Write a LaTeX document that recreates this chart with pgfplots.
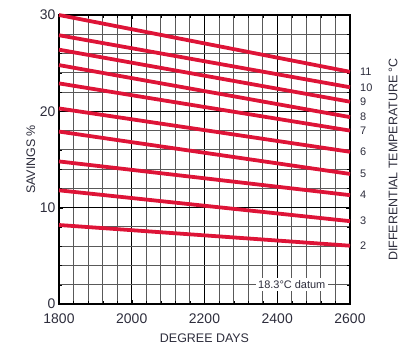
\documentclass[border=0pt]{standalone}
\usepackage{pgfplots}
\pgfplotsset{compat=1.18}
\usepackage{fontspec}
\setmainfont{Liberation Sans}
\definecolor{linered}{RGB}{222,20,55}
\definecolor{txt}{RGB}{45,45,60}
\begin{document}
\begin{tikzpicture}
\path (-59bp,-55bp) rectangle (344bp,304bp);
\begin{axis}[
  at={(0,0)}, anchor=south west,
  scale only axis, width=291bp, height=289bp,
  xmin=1800, xmax=2600, ymin=0, ymax=30,
  xtick={1800,2000,2200,2400,2600}, ytick={0,10,20,30},
  minor x tick num=4, minor y tick num=4,
  grid=both,
  major grid style={black, line width=1pt},
  minor grid style={black!65, line width=1pt},
  axis line style={black, line width=1.2pt},
  tick style={black},
  tick label style={font=\fontsize{14}{16}\selectfont, text=txt},
  xticklabel style={yshift=-6bp},
  /pgf/number format/assume math mode=true,
  /pgf/number format/1000 sep={},
  xlabel={DEGREE DAYS},
  ylabel={SAVINGS \%},
  label style={font=\fontsize{12.5}{14}\selectfont, text=txt},
  xlabel style={yshift=-4bp},
  ylabel style={yshift=-2bp},
  clip=false,
]
\addplot[linered, line width=3.8pt] coordinates {(1800,8.2) (2600,6.05)} node[pos=1, right=5bp, font=\fontsize{11}{12}\selectfont, text=txt]{2};
\addplot[linered, line width=3.8pt] coordinates {(1800,11.8) (2600,8.6)} node[pos=1, right=5bp, font=\fontsize{11}{12}\selectfont, text=txt]{3};
\addplot[linered, line width=3.8pt] coordinates {(1800,14.8) (2600,11.3)} node[pos=1, right=5bp, font=\fontsize{11}{12}\selectfont, text=txt]{4};
\addplot[linered, line width=3.8pt] coordinates {(1800,17.9) (2600,13.5)} node[pos=1, right=5bp, font=\fontsize{11}{12}\selectfont, text=txt]{5};
\addplot[linered, line width=3.8pt] coordinates {(1800,20.3) (2600,15.8)} node[pos=1, right=5bp, font=\fontsize{11}{12}\selectfont, text=txt]{6};
\addplot[linered, line width=3.8pt] coordinates {(1800,22.9) (2600,18.0)} node[pos=1, right=5bp, font=\fontsize{11}{12}\selectfont, text=txt]{7};
\addplot[linered, line width=3.8pt] coordinates {(1800,24.8) (2600,19.4)} node[pos=1, right=5bp, font=\fontsize{11}{12}\selectfont, text=txt]{8};
\addplot[linered, line width=3.8pt] coordinates {(1800,26.4) (2600,21.0)} node[pos=1, right=5bp, font=\fontsize{11}{12}\selectfont, text=txt]{9};
\addplot[linered, line width=3.8pt] coordinates {(1800,27.9) (2600,22.5)} node[pos=1, right=5bp, font=\fontsize{11}{12}\selectfont, text=txt]{10};
\addplot[linered, line width=3.8pt] coordinates {(1800,30.0) (2600,24.1)} node[pos=1, right=5bp, font=\fontsize{11}{12}\selectfont, text=txt]{11};
\node[fill=white, inner sep=2.5bp, font=\fontsize{11}{12}\selectfont, text=txt] at (axis cs:2440,2) {18.3°C datum};
\end{axis}
\node[rotate=90, font=\fontsize{12.5}{14}\selectfont, text=txt] at ([xshift=43bp]current axis.east) {DIFFERENTIAL TEMPERATURE °C};
\end{tikzpicture}
\end{document}
